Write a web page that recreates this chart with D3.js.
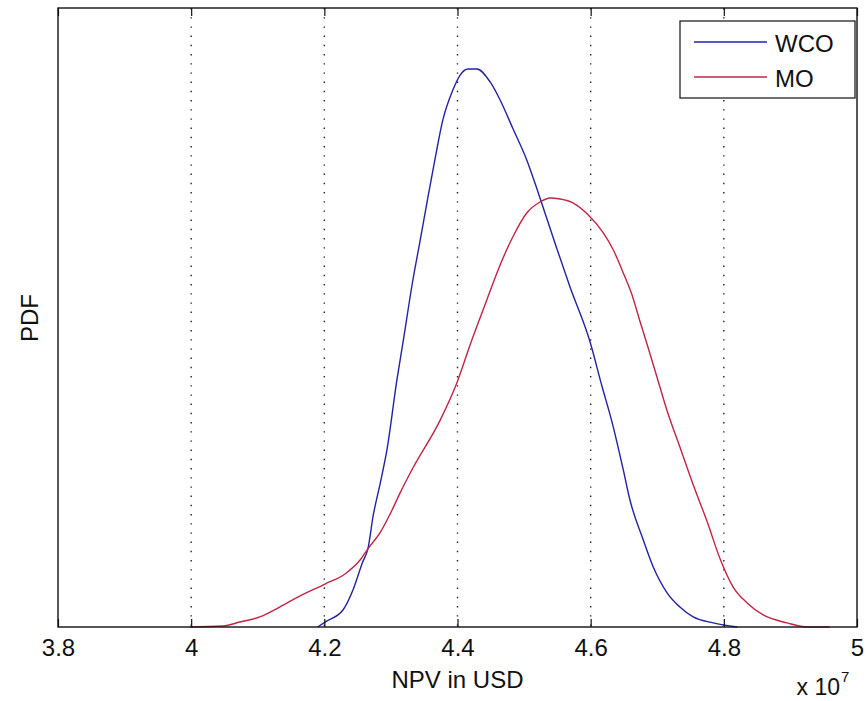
<!DOCTYPE html>
<html>
<head>
<meta charset="utf-8">
<script src="https://cdn.jsdelivr.net/npm/d3@7"></script>
<style>
  body { margin: 0; background: #fff; }
  svg text { font-family: "Liberation Sans", Arial, sans-serif; fill: #111; }
</style>
</head>
<body>
<div id="root"></div>
<script>
const width = 866;
const height = 701;

// NPV in units of 1e7 USD, PDF
const wcoX = [4.190, 4.201, 4.228, 4.243, 4.257, 4.266, 4.273, 4.284, 4.294, 4.309, 4.318, 4.333, 4.344, 4.354, 4.366, 4.378, 4.393, 4.404, 4.416, 4.429, 4.449, 4.464, 4.483, 4.504, 4.519, 4.534, 4.549, 4.569, 4.599, 4.617, 4.632, 4.649, 4.659, 4.679, 4.694, 4.715, 4.734, 4.754, 4.784, 4.820];
const wcoY = [0, 0.028, 0.096, 0.209, 0.362, 0.452, 0.622, 0.814, 1.001, 1.397, 1.606, 1.962, 2.188, 2.397, 2.641, 2.867, 3.036, 3.121, 3.155, 3.155, 3.082, 2.980, 2.820, 2.641, 2.481, 2.311, 2.142, 1.922, 1.613, 1.361, 1.160, 0.888, 0.718, 0.492, 0.339, 0.192, 0.113, 0.057, 0.023, 0];

const moX = [3.998, 4.048, 4.073, 4.103, 4.133, 4.163, 4.201, 4.231, 4.254, 4.266, 4.284, 4.299, 4.314, 4.333, 4.374, 4.399, 4.419, 4.444, 4.461, 4.483, 4.504, 4.524, 4.539, 4.554, 4.574, 4.595, 4.619, 4.634, 4.649, 4.662, 4.674, 4.686, 4.704, 4.715, 4.734, 4.754, 4.775, 4.794, 4.814, 4.835, 4.859, 4.895, 4.925, 4.959];
const moY = [0, 0.006, 0.028, 0.057, 0.113, 0.175, 0.243, 0.300, 0.380, 0.445, 0.535, 0.640, 0.760, 0.899, 1.170, 1.380, 1.596, 1.849, 2.019, 2.205, 2.341, 2.403, 2.426, 2.420, 2.397, 2.335, 2.228, 2.132, 2.002, 1.879, 1.729, 1.583, 1.357, 1.220, 1.018, 0.804, 0.595, 0.389, 0.226, 0.136, 0.068, 0.023, 0, 0];

const xTicks = [3.8, 4, 4.2, 4.4, 4.6, 4.8, 5];
const seriesNames = ['WCO', 'MO'];
const seriesColors = ['#2222a8', '#c42444'];

const plot = {left: 58, right: 857, top: 8, bottom: 627};

const x = d3.scaleLinear().domain([3.8, 5]).range([plot.left, plot.right]);
const y = d3.scaleLinear().domain([0, 3.5]).range([plot.bottom, plot.top]);

const svg = d3.select('#root')
    .append('svg')
    .attr('width', width)
    .attr('height', height);

svg.append('rect')
    .attr('width', width)
    .attr('height', height)
    .attr('fill', '#fff');

// dotted grid
svg.append('g')
    .selectAll('line')
    .data(xTicks.slice(1, -1))
    .join('line')
    .attr('x1', d => x(d))
    .attr('x2', d => x(d))
    .attr('y1', plot.top)
    .attr('y2', plot.bottom)
    .attr('stroke', '#222')
    .attr('stroke-width', 1.4)
    .attr('stroke-dasharray', '1.4 7.8');

const series = [
    wcoX.map((v, i) => [v, wcoY[i]]),
    moX.map((v, i) => [v, moY[i]])
];

const line = d3.line()
    .x(d => x(d[0]))
    .y(d => y(d[1]))
    .curve(d3.curveMonotoneX);

svg.append('g')
    .selectAll('path')
    .data(series)
    .join('path')
    .attr('d', line)
    .attr('fill', 'none')
    .attr('stroke', (d, i) => seriesColors[i])
    .attr('stroke-width', 1.4);

// bottom axis with inward ticks
const bottomAxis = d3.axisBottom(x)
    .tickValues(xTicks)
    .tickSize(-8)
    .tickPadding(12)
    .tickFormat(d3.format('~g'));

const gx = svg.append('g')
    .attr('transform', `translate(0,${plot.bottom})`)
    .call(bottomAxis);
gx.select('.domain').remove();
gx.selectAll('.tick line').attr('stroke', '#111').attr('stroke-width', 1.2);
gx.selectAll('.tick text')
    .attr('font-size', 24)
    .attr('font-family', '"Liberation Sans", Arial, sans-serif')
    .attr('fill', '#111');

const gTop = svg.append('g')
    .attr('transform', `translate(0,${plot.top})`)
    .call(d3.axisTop(x).tickValues(xTicks).tickSize(-8).tickFormat(''));
gTop.select('.domain').remove();
gTop.selectAll('.tick line').attr('stroke', '#111').attr('stroke-width', 1.2);

// axes box
svg.append('rect')
    .attr('x', plot.left)
    .attr('y', plot.top)
    .attr('width', plot.right - plot.left)
    .attr('height', plot.bottom - plot.top)
    .attr('fill', 'none')
    .attr('stroke', '#111')
    .attr('stroke-width', 1.4);

// labels
svg.append('text')
    .attr('x', (plot.left + plot.right) / 2)
    .attr('y', 688)
    .attr('text-anchor', 'middle')
    .attr('font-size', 24)
    .text('NPV in USD');

svg.append('text')
    .attr('transform', 'translate(38,318) rotate(-90)')
    .attr('text-anchor', 'middle')
    .attr('font-size', 24)
    .text('PDF');

svg.append('text')
    .attr('x', 840)
    .attr('y', 695)
    .attr('text-anchor', 'end')
    .attr('font-size', 23)
    .text('x 10');
svg.append('text')
    .attr('x', 841)
    .attr('y', 682)
    .attr('font-size', 15)
    .text('7');

// legend
const legend = svg.append('g');
legend.append('rect')
    .attr('x', 680)
    .attr('y', 21)
    .attr('width', 175)
    .attr('height', 77)
    .attr('fill', '#fff')
    .attr('stroke', '#111')
    .attr('stroke-width', 1.2);

const items = legend.selectAll('g.item')
    .data(seriesNames)
    .join('g')
    .attr('class', 'item')
    .attr('transform', (d, i) => `translate(0,${42 + i * 35})`);
items.append('line')
    .attr('x1', 694)
    .attr('x2', 767)
    .attr('stroke', (d, i) => seriesColors[i])
    .attr('stroke-width', 1.4);
items.append('text')
    .attr('x', 775)
    .attr('y', 10)
    .attr('font-size', 24)
    .text(d => d);
</script>
</body>
</html>
